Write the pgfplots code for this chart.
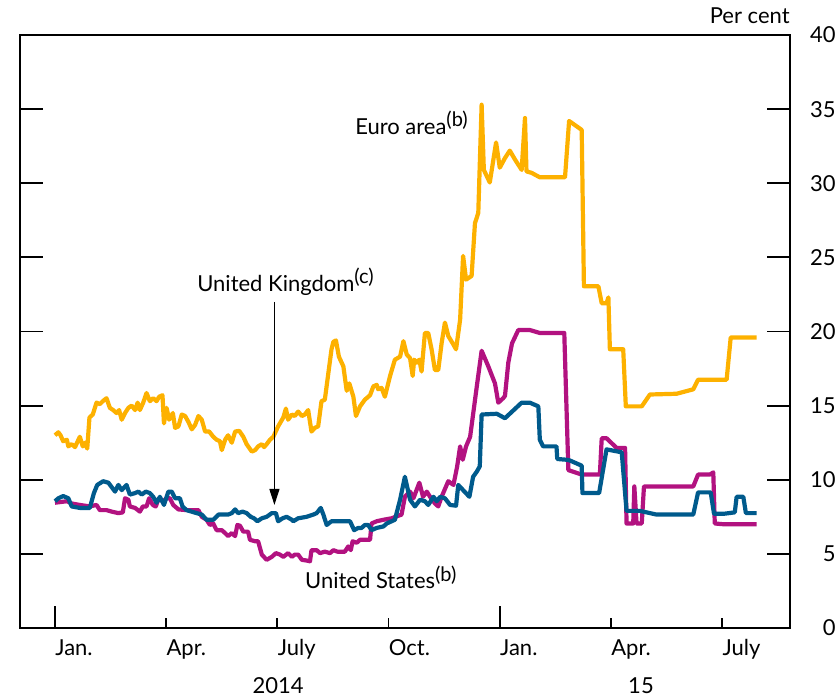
\documentclass[border=0pt]{standalone}
\usepackage{pgfplots}
\pgfplotsset{compat=1.18}
\usepackage{fontspec}
\setmainfont{Lato}
\usetikzlibrary{arrows.meta}
\definecolor{euro}{RGB}{253,177,0}
\definecolor{ukblue}{RGB}{0,90,140}
\definecolor{usmag}{RGB}{178,18,128}
\newcommand{\notesup}[1]{\raisebox{3.8pt}{\fontsize{10pt}{12pt}\selectfont#1}}
\begin{document}
\begin{tikzpicture}
\fontsize{11pt}{13pt}\selectfont
\path[use as bounding box] (-10pt,-36pt) rectangle (410pt,314pt);
\begin{axis}[
  at={(0,0)}, anchor=south west,
  scale only axis, width=385pt, height=296.5pt,
  xmin=-0.944, xmax=19.83, ymin=0, ymax=40,
  axis line style={line width=0.9pt},
  tick style={line width=0.9pt, black},
  tick align=inside,
  major tick length=5pt,
  xtick pos=bottom,
  xtick={3,6,9,15,18},
  xticklabels={Apr.,July,Oct.,Apr.,July},
  extra x ticks={0,12},
  extra x tick labels={Jan.,Jan.},
  extra x tick style={major tick length=11pt},
  xticklabel style={anchor=base west, inner sep=0pt, yshift=-13.5pt, font=\fontsize{11pt}{13pt}\selectfont},
  ytick=\empty,
  extra y ticks={0,5,...,40},
  extra y tick style={major tick length=11.5pt},
  ytick pos=both,
  yticklabel pos=right,
  yticklabel style={anchor=east, inner sep=0pt, xshift=23pt, font=\fontsize{11pt}{13pt}\selectfont},
  /pgf/number format/assume math mode=true,
  clip=false,
  every axis plot/.append style={line width=2.1pt, line join=round, no marks},
]
% Euro area
\addplot[euro] coordinates {
(0,13.0)(0.09,13.2)(0.15,13.0)(0.22,12.6)(0.32,12.7)(0.36,12.25)(0.45,12.4)(0.54,12.2)(0.67,12.9)(0.75,12.25)(0.81,12.5)(0.87,12.1)(0.93,14.2)(1.02,14.4)(1.12,15.2)(1.21,15.1)(1.29,15.3)(1.39,15.5)(1.48,14.85)(1.57,14.7)(1.66,14.5)(1.73,14.7)(1.80,14.05)(1.89,14.5)(1.98,14.85)(2.07,15.0)(2.16,14.7)(2.23,15.2)(2.29,14.7)(2.38,15.2)(2.47,15.85)(2.56,15.3)(2.65,15.5)(2.74,15.3)(2.81,15.6)(2.90,15.7)(2.94,13.8)(3.01,14.85)(3.08,14.05)(3.18,14.5)(3.24,13.5)(3.33,13.6)(3.42,14.4)(3.51,14.3)(3.60,13.9)(3.69,13.4)(3.78,13.7)(3.87,14.3)(3.96,14.05)(4.05,13.25)(4.16,13.25)(4.27,12.9)(4.36,12.7)(4.45,12.6)(4.50,12.0)(4.59,12.7)(4.67,13.0)(4.77,12.5)(4.86,13.25)(4.97,13.3)(5.08,12.9)(5.17,12.4)(5.31,11.9)(5.40,12.0)(5.48,12.25)(5.58,12.4)(5.64,12.2)(5.71,12.4)(5.80,12.7)(5.89,12.9)(6.02,13.6)(6.16,14.2)(6.23,14.8)(6.29,14.05)(6.39,14.4)(6.47,14.3)(6.56,14.6)(6.66,14.3)(6.74,14.4)(6.83,14.7)(6.92,13.25)(7.01,13.5)(7.10,13.6)(7.19,15.3)(7.28,15.4)(7.37,17.1)(7.46,18.8)(7.51,19.3)(7.58,19.4)(7.66,18.3)(7.78,17.65)(7.87,16.0)(7.94,16.5)(8.05,15.6)(8.12,14.3)(8.23,14.95)(8.36,15.4)(8.50,15.7)(8.59,16.3)(8.68,16.4)(8.72,16.1)(8.81,16.2)(8.90,15.6)(9.04,17.0)(9.17,18.1)(9.31,18.3)(9.40,19.35)(9.49,18.45)(9.58,18.2)(9.65,17.0)(9.69,18.1)(9.76,17.9)(9.83,18.1)(9.89,17.3)(9.98,19.9)(10.07,19.9)(10.16,18.8)(10.25,17.4)(10.34,17.4)(10.43,19.2)(10.52,20.6)(10.61,19.7)(10.73,19.2)(10.82,18.8)(10.93,20.8)(11.01,25.1)(11.09,23.5)(11.24,23.75)(11.33,27.3)(11.42,28.0)(11.51,35.3)(11.57,30.9)(11.73,30.05)(11.90,32.75)(12.00,31.05)(12.14,31.7)(12.27,32.2)(12.41,31.6)(12.59,30.9)(12.68,34.4)(12.72,30.8)(12.86,30.7)(13.08,30.4)(13.76,30.4)(13.87,34.2)(14.21,33.6)(14.27,23.05)(14.66,23.05)(14.75,21.9)(14.88,21.9)(14.93,22.3)(14.97,18.8)(15.33,18.8)(15.40,14.95)(15.83,14.95)(16.05,15.75)(16.77,15.8)(17.22,16.1)(17.35,16.75)(18.12,16.75)(18.23,19.6)(18.93,19.6)
};
% United States
\addplot[usmag] coordinates {
(0,8.45)(0.32,8.55)(0.45,8.4)(0.67,8.3)(0.94,8.2)(1.12,8.3)(1.21,7.95)(1.39,7.95)(1.53,7.85)(1.71,7.75)(1.83,7.8)(1.89,8.75)(1.98,8.65)(2.02,8.2)(2.16,8.1)(2.29,7.85)(2.37,8.2)(2.47,8.2)(2.54,8.75)(2.64,8.3)(2.72,8.2)(2.79,8.7)(2.92,8.55)(3.01,8.75)(3.10,8.75)(3.19,8.3)(3.33,8.0)(3.55,7.95)(3.87,7.95)(3.96,7.5)(4.09,7.3)(4.18,6.95)(4.27,7.05)(4.36,6.6)(4.50,6.6)(4.59,6.4)(4.67,6.2)(4.77,6.4)(4.86,6.2)(4.92,6.95)(4.99,6.9)(5.08,6.5)(5.21,6.5)(5.26,5.95)(5.40,5.85)(5.48,5.85)(5.58,4.95)(5.71,4.6)(5.85,4.8)(5.96,5.05)(6.07,4.95)(6.16,4.8)(6.29,5.05)(6.39,4.8)(6.47,4.95)(6.56,4.95)(6.66,4.6)(6.79,4.55)(6.88,4.5)(6.92,5.25)(7.06,5.25)(7.15,5.05)(7.28,5.15)(7.42,5.05)(7.51,5.25)(7.62,5.15)(7.82,5.15)(7.91,5.5)(7.98,5.25)(8.03,5.85)(8.14,5.75)(8.23,5.95)(8.50,5.95)(8.54,7.05)(8.68,7.2)(8.86,7.3)(9.08,7.4)(9.35,7.65)(9.44,8.85)(9.58,9.2)(9.67,8.75)(9.83,9.8)(9.93,8.85)(10.03,9.2)(10.12,8.85)(10.25,8.4)(10.34,8.2)(10.43,8.85)(10.61,9.9)(10.75,9.65)(10.85,10.9)(10.93,12.25)(11.00,11.35)(11.09,12.25)(11.20,12.9)(11.38,16.3)(11.51,18.7)(11.69,17.65)(11.87,16.5)(11.96,15.2)(12.09,15.5)(12.14,15.65)(12.23,17.9)(12.33,19.2)(12.50,20.1)(12.81,20.1)(13.08,19.9)(13.74,19.9)(13.85,10.65)(14.21,10.35)(14.70,10.35)(14.75,12.8)(14.88,12.8)(15.15,12.15)(15.38,12.15)(15.42,7.05)(15.60,7.05)(15.63,9.55)(15.69,7.05)(15.83,7.05)(15.89,9.55)(17.22,9.55)(17.35,10.35)(17.67,10.35)(17.76,10.5)(17.80,7.05)(18.03,7.0)(18.93,7.0)
};
% United Kingdom
\addplot[ukblue] coordinates {
(0,8.55)(0.09,8.75)(0.22,8.9)(0.36,8.75)(0.45,8.2)(0.67,8.1)(0.94,8.1)(1.05,9.1)(1.14,9.65)(1.30,9.9)(1.44,9.8)(1.62,9.2)(1.71,9.65)(1.80,9.3)(1.93,9.65)(2.02,9.0)(2.16,9.1)(2.25,9.2)(2.34,9.0)(2.45,9.2)(2.56,9.1)(2.65,8.85)(2.74,8.45)(2.83,8.85)(2.94,8.3)(3.06,9.2)(3.15,9.2)(3.24,8.75)(3.37,8.75)(3.44,8.2)(3.55,7.95)(3.82,7.75)(3.96,7.65)(4.09,7.3)(4.27,7.3)(4.41,7.65)(4.54,7.65)(4.67,7.65)(4.77,7.75)(4.86,8.0)(4.94,7.75)(5.06,7.85)(5.17,7.75)(5.28,7.5)(5.37,7.4)(5.46,7.2)(5.58,7.4)(5.71,7.5)(5.85,7.75)(5.96,7.75)(6.02,7.2)(6.14,7.4)(6.25,7.5)(6.39,7.3)(6.43,7.2)(6.56,7.4)(6.79,7.5)(6.97,7.65)(7.06,7.75)(7.17,8.1)(7.24,7.65)(7.33,6.95)(7.46,7.2)(7.96,7.2)(8.07,6.6)(8.18,6.75)(8.27,6.75)(8.36,6.95)(8.45,6.95)(8.54,6.6)(8.68,6.75)(8.86,6.85)(8.95,7.05)(9.17,7.3)(9.31,8.65)(9.44,10.2)(9.58,8.65)(9.71,8.2)(9.85,8.65)(9.98,8.55)(10.07,8.3)(10.21,8.85)(10.30,8.55)(10.39,8.85)(10.52,8.75)(10.66,8.3)(10.82,8.25)(10.88,9.65)(11.01,9.3)(11.18,8.85)(11.28,10.2)(11.38,10.55)(11.46,10.9)(11.51,14.4)(11.92,14.45)(12.14,14.15)(12.59,15.2)(12.81,15.2)(13.04,14.95)(13.08,12.7)(13.17,12.25)(13.53,12.25)(13.55,11.4)(13.80,11.35)(13.89,11.3)(14.21,10.95)(14.23,9.1)(14.68,9.1)(14.88,12.05)(15.29,11.85)(15.42,7.9)(15.78,7.9)(16.23,7.65)(17.22,7.65)(17.35,9.15)(17.69,9.15)(17.78,7.7)(18.03,7.7)(18.34,7.8)(18.39,8.85)(18.57,8.85)(18.64,7.75)(18.93,7.75)
};
\node[anchor=base west, inner sep=0pt] at (axis cs:8.09,33.3) {Euro area\notesup{(b)}};
\node[anchor=base west, inner sep=0pt] at (axis cs:3.83,22.7) {United Kingdom\notesup{(c)}};
\node[anchor=base west, inner sep=0pt] at (axis cs:6.74,2.64) {United States\notesup{(b)}};
\draw[line width=0.6pt, -{Triangle[length=8pt,width=5pt]}] (axis cs:5.92,22.0) -- (axis cs:5.92,8.3);
\node[anchor=base east, inner sep=0pt] at ([yshift=5.5pt]rel axis cs:1,1) {Per cent};
\node[anchor=base, inner sep=0pt] at ([yshift=-32.5pt]axis cs:6.02,0) {2014};
\node[anchor=base, inner sep=0pt] at ([yshift=-32.5pt]axis cs:15.81,0) {15};
\end{axis}
\end{tikzpicture}
\end{document}
